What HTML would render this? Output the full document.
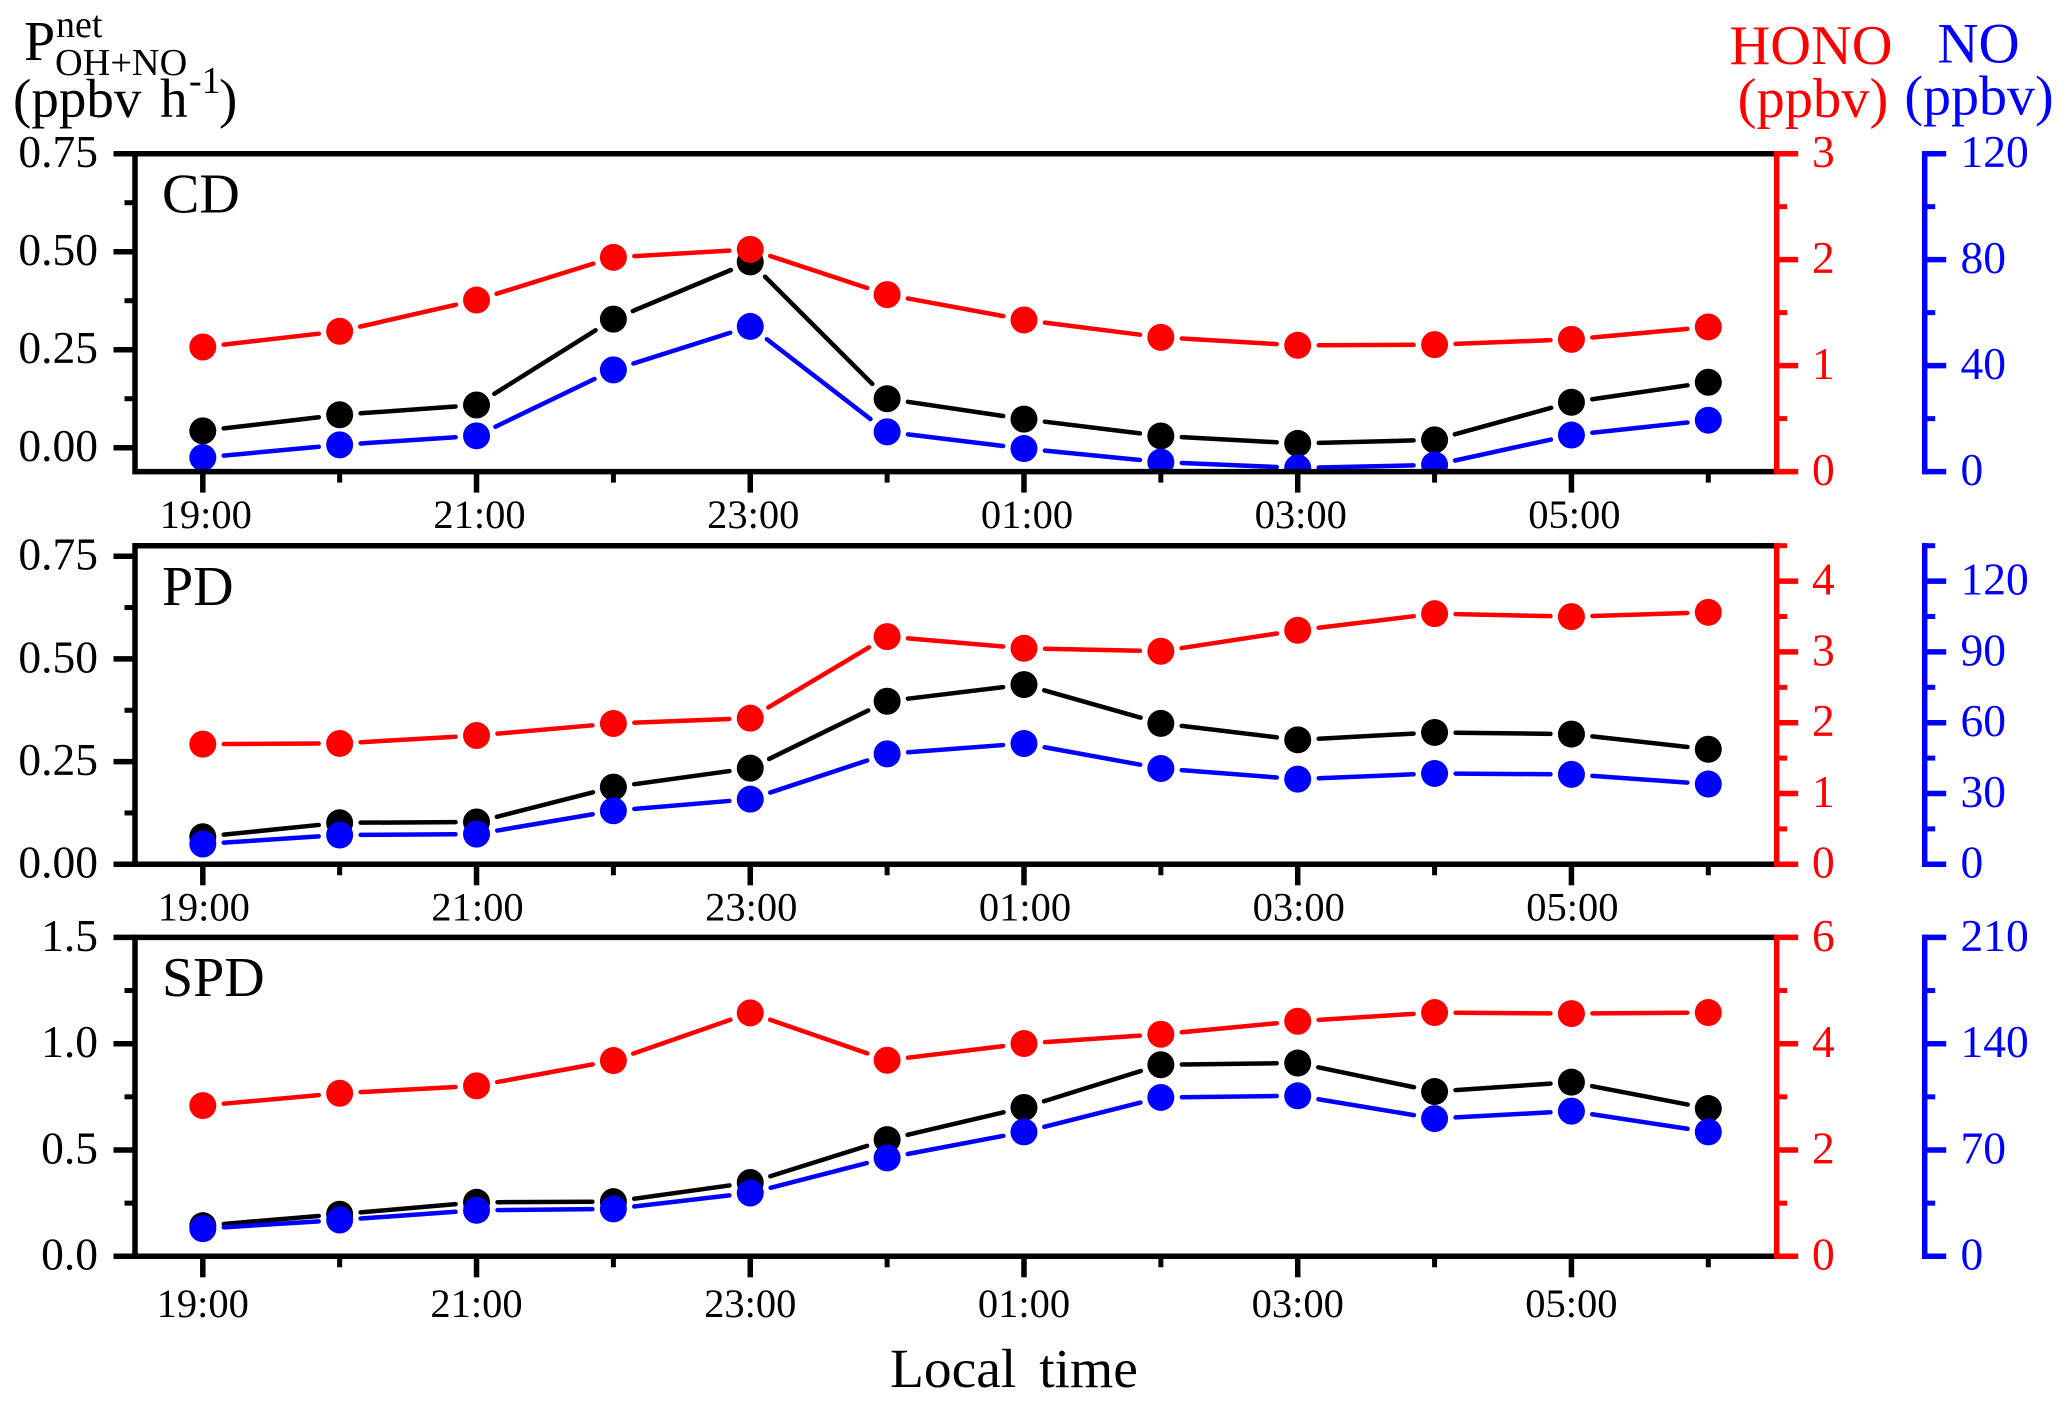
<!DOCTYPE html>
<html lang="en">
<head>
<meta charset="utf-8">
<title>Net OH+NO production, HONO and NO by local time</title>
<style>
  html, body { margin: 0; padding: 0; background: #fff; }
  svg { display: block; }
  text { font-family: "Liberation Serif", "Times New Roman", serif; }
</style>
</head>
<body>
<svg id="chart" xmlns="http://www.w3.org/2000/svg" width="2067" height="1403" viewBox="0 0 2067 1403">
  <rect x="0" y="0" width="2067" height="1403" fill="#fff"/>
  <g fill="#000">
    <text x="24" y="60" font-size="56">P</text>
    <text x="56" y="37" font-size="38">net</text>
    <text x="55" y="75" font-size="38.3">OH+NO</text>
    <text x="13" y="117" font-size="55" word-spacing="5">(ppbv h</text>
    <text x="189" y="93" font-size="38">-1</text>
    <text x="219" y="117" font-size="55">)</text>
  </g>
  <g fill="#f00" text-anchor="middle">
    <text x="1811" y="64" font-size="56.4">HONO</text>
    <text x="1813" y="117" font-size="56.5">(ppbv)</text>
  </g>
  <g fill="#00f" text-anchor="middle">
    <text x="1978.5" y="62.5" font-size="57">NO</text>
    <text x="1979" y="114.5" font-size="56">(ppbv)</text>
  </g>
  <text x="890" y="1387" font-size="55.5" word-spacing="9" fill="#000">Local time</text>
</svg>
<script>
// ---- shared categories ----
const timeCategories = ['19:00', '20:00', '21:00', '22:00', '23:00', '00:00', '01:00', '02:00', '03:00', '04:00', '05:00', '06:00'];

// ---- CD panel ----
const cdNet = [0.043, 0.084, 0.109, 0.328, 0.474, 0.125, 0.073, 0.030, 0.011, 0.020, 0.116, 0.167];
const cdHono = [1.176, 1.324, 1.619, 2.022, 2.097, 1.670, 1.431, 1.267, 1.192, 1.198, 1.248, 1.365];
const cdNo = [5.3, 10.1, 13.5, 38.4, 54.8, 15.0, 8.7, 3.6, 1.4, 2.5, 13.8, 19.4];
const cdNetTicks = [0, 0.25, 0.5, 0.75];
const cdHonoTicks = [0, 1, 2, 3];
const cdNoTicks = [0, 40, 80, 120];

// ---- PD panel ----
const pdNet = [0.067, 0.101, 0.103, 0.188, 0.234, 0.397, 0.4375, 0.343, 0.303, 0.321, 0.317, 0.280];
const pdHono = [1.697, 1.707, 1.819, 1.989, 2.064, 3.216, 3.051, 3.009, 3.305, 3.540, 3.498, 3.559];
const pdNo = [8.6, 12.4, 12.8, 22.7, 27.6, 46.8, 51.2, 40.6, 36.1, 38.5, 38.1, 34.0];
const pdNetTicks = [0, 0.25, 0.5, 0.75];
const pdHonoTicks = [0, 1, 2, 3, 4];
const pdNoTicks = [0, 30, 60, 90, 120];

// ---- SPD panel ----
const spdNet = [0.144, 0.198, 0.254, 0.257, 0.347, 0.549, 0.700, 0.901, 0.909, 0.775, 0.819, 0.695];
const spdHono = [2.836, 3.068, 3.206, 3.683, 4.580, 3.689, 4.003, 4.178, 4.423, 4.586, 4.567, 4.586];
const spdNo = [18.2, 23.9, 30.3, 31.2, 41.7, 64.8, 81.9, 104.6, 105.7, 90.7, 95.6, 81.9];
const spdNetTicks = [0, 0.5, 1.0, 1.5];
const spdHonoTicks = [0, 2, 4, 6];
const spdNoTicks = [0, 70, 140, 210];

const SVG_NS = 'http://www.w3.org/2000/svg';
const chart = document.getElementById('chart');

// Frame geometry shared by all panels
const plotLeft = 135;
const plotRight = 1776.7;
const noAxisX = 1924.7;
const firstPointX = 202.8;
const lastPointX = 1708.3;
const markerRadius = 13.5;
const segmentGap = 21;
const axisWidth = 5.5;

function xScale(index) {
  return firstPointX + (lastPointX - firstPointX) * index / (timeCategories.length - 1);
}
function linearScale(domainMin, domainMax, rangeBottom, rangeTop) {
  return function (value) {
    return rangeBottom + (value - domainMin) / (domainMax - domainMin) * (rangeTop - rangeBottom);
  };
}
function make(tag, attrs, parent) {
  const node = document.createElementNS(SVG_NS, tag);
  for (const key in attrs) node.setAttribute(key, attrs[key]);
  parent.appendChild(node);
  return node;
}
function minorValues(ticks, domainMin, domainMax) {
  const step = ticks[1] - ticks[0];
  const out = [];
  for (let k = Math.ceil(domainMin / step - 0.5); k + 0.5 <= domainMax / step + 1e-6; k++) {
    const v = (k + 0.5) * step;
    if (v >= domainMin) out.push(v);
  }
  return out;
}

function drawYAxis(group, cfg) {
  const spine = make('line', { x1: cfg.axisX, x2: cfg.axisX, y1: cfg.top - 2.75, y2: cfg.bottom + 2.75, stroke: cfg.color, 'stroke-width': axisWidth }, group);
  
  
  cfg.ticks.forEach(function (value) {
    const y = cfg.scale(value);
    const tick = make('line', { x1: cfg.axisX, x2: cfg.axisX + cfg.dir * 21.5, y1: y, y2: y, stroke: cfg.color, 'stroke-width': axisWidth }, group);
    
    
    const label = make('text', { x: cfg.labelX, y: y + 13.4, 'font-size': 45.5, fill: cfg.color, 'text-anchor': cfg.anchor }, group);
    label.textContent = cfg.format(value);
    
    
  });
  cfg.minors.forEach(function (value) {
    const y = cfg.scale(value);
    const tick = make('line', { x1: cfg.axisX, x2: cfg.axisX + cfg.dir * 10.5, y1: y, y2: y, stroke: cfg.color, 'stroke-width': 5 }, group);
    
    
  });
}

function drawSeries(group, seriesName, values, yScale, color) {
  const points = values.map(function (value, i) {
    return { x: xScale(i), y: yScale(value) };
  });
  const seriesGroup = make('g', {}, group);
  
  
  for (let i = 0; i + 1 < points.length; i++) {
    const a = points[i];
    const b = points[i + 1];
    const dx = b.x - a.x;
    const dy = b.y - a.y;
    const len = Math.sqrt(dx * dx + dy * dy);
    const ux = dx / len;
    const uy = dy / len;
    const seg = make('line', {
      x1: a.x + ux * segmentGap, y1: a.y + uy * segmentGap,
      x2: b.x - ux * segmentGap, y2: b.y - uy * segmentGap,
      stroke: color, 'stroke-width': 4.5, 'stroke-linecap': 'round'
    }, seriesGroup);
    
    
  }
  return { seriesGroup: seriesGroup, points: points, color: color, seriesName: seriesName };
}

function drawMarkers(series) {
  series.points.forEach(function (p) {
    const dot = make('circle', { cx: p.x, cy: p.y, r: markerRadius, fill: series.color }, series.seriesGroup);
    
    
  });
}

function drawPanel(panel) {
  const group = make('g', {}, chart);
  
  

  const netScale = linearScale(panel.netDomain[0], panel.netDomain[1], panel.bottom, panel.top);
  const honoScale = linearScale(0, panel.honoMax, panel.bottom, panel.top);
  const noScale = linearScale(0, panel.noMax, panel.bottom, panel.top);

  const clip = make('clipPath', { id: panel.name + '-clip' }, group);
  make('rect', { x: plotLeft, y: panel.top, width: plotRight - plotLeft, height: panel.bottom - panel.top }, clip);

  const marks = make('g', { 'clip-path': 'url(#' + panel.name + '-clip)' }, group);
  
  

  const netSeries = drawSeries(marks, panel.name + '-net-production', panel.net, netScale, '#000');
  const noSeries = drawSeries(marks, panel.name + '-no', panel.no, noScale, '#00f');
  const honoSeries = drawSeries(marks, panel.name + '-hono', panel.hono, honoScale, '#f00');
  drawMarkers(netSeries);
  drawMarkers(noSeries);
  drawMarkers(honoSeries);

  const topLine = make('line', { x1: plotLeft, x2: plotRight, y1: panel.top, y2: panel.top, stroke: '#000', 'stroke-width': axisWidth }, group);
  
  
  const bottomLine = make('line', { x1: plotLeft, x2: plotRight, y1: panel.bottom, y2: panel.bottom, stroke: '#000', 'stroke-width': axisWidth }, group);
  
  

  timeCategories.forEach(function (cat, i) {
    const x = xScale(i);
    const major = i % 2 === 0;
    const tick = make('line', { x1: x, x2: x, y1: panel.bottom, y2: panel.bottom + (major ? 21 : 11), stroke: '#000', 'stroke-width': major ? axisWidth : 5 }, group);
    
    
    if (major) {
      const label = make('text', { x: x + panel.xLabelOffset, y: panel.xLabelY, 'font-size': 40.5, fill: '#000', 'text-anchor': 'middle' }, group);
      label.textContent = cat;
      
      
    }
  });

  drawYAxis(group, {
    prefix: panel.name + '-net-production-y', color: '#000', axisX: plotLeft, dir: -1,
    ticks: panel.netTicks, scale: netScale,
    minors: minorValues(panel.netTicks, panel.netDomain[0], panel.netDomain[1]),
    labelX: 98, anchor: 'end',
    format: function (v) { return v.toFixed(panel.netDigits); },
    top: panel.top, bottom: panel.bottom
  });
  drawYAxis(group, {
    prefix: panel.name + '-hono-y', color: '#f00', axisX: plotRight, dir: 1,
    ticks: panel.honoTicks, scale: honoScale,
    minors: minorValues(panel.honoTicks, 0, panel.honoMax),
    labelX: 1812, anchor: 'start',
    format: String,
    top: panel.top, bottom: panel.bottom
  });
  drawYAxis(group, {
    prefix: panel.name + '-no-y', color: '#00f', axisX: noAxisX, dir: 1,
    ticks: panel.noTicks, scale: noScale,
    minors: minorValues(panel.noTicks, 0, panel.noMax),
    labelX: 1960.5, anchor: 'start',
    format: String,
    top: panel.top, bottom: panel.bottom
  });

  const title = make('text', { x: 162, y: panel.titleY, 'font-size': 56, fill: '#000' }, group);
  title.textContent = panel.title;
  
  
}

drawPanel({
  name: 'cd', title: 'CD', titleY: 212.5, top: 153.7, bottom: 471.6, xLabelY: 528, xLabelOffset: 3,
  net: cdNet, hono: cdHono, no: cdNo, netTicks: cdNetTicks, honoTicks: cdHonoTicks, noTicks: cdNoTicks,
  netDomain: [-0.0609, 0.75], honoMax: 3, noMax: 120, netDigits: 2
});
drawPanel({
  name: 'pd', title: 'PD', titleY: 605, top: 545.7, bottom: 864.3, xLabelY: 920.7, xLabelOffset: 1,
  net: pdNet, hono: pdHono, no: pdNo, netTicks: pdNetTicks, honoTicks: pdHonoTicks, noTicks: pdNoTicks,
  netDomain: [0, 0.7756], honoMax: 4.5, noMax: 135, netDigits: 2
});
drawPanel({
  name: 'spd', title: 'SPD', titleY: 996, top: 937.4, bottom: 1256.3, xLabelY: 1317, xLabelOffset: 0,
  net: spdNet, hono: spdHono, no: spdNo, netTicks: spdNetTicks, honoTicks: spdHonoTicks, noTicks: spdNoTicks,
  netDomain: [0, 1.5], honoMax: 6, noMax: 210, netDigits: 1
});
</script>
</body>
</html>
